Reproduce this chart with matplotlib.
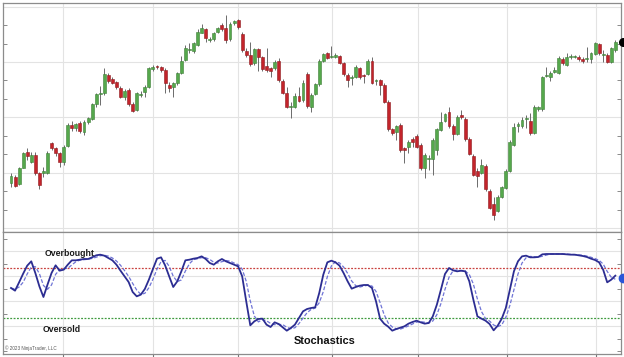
import matplotlib
matplotlib.use("Agg")
import matplotlib.pyplot as plt
import numpy as np

# ---------------- data ----------------
opens = [15.2,17.0,14.7,19.7,24.5,21.3,23.5,18.2,18.0,18.0,27.2,25.5,24.2,21.5,26.3,32.5,31.5,33.0,30.5,33.5,
         34.3,38.7,41.8,42.2,47.5,46.3,45.4,43.5,41.0,43.0,38.7,37.0,41.6,42.5,43.8,49.2,50.1,49.8,49.0,44.5,
         44.0,45.0,48.0,52.0,55.0,54.8,56.5,60.2,61.2,58.0,58.2,60.3,62.5,61.5,58.2,63.0,64.0,59.8,54.8,53.5,
         51.0,55.2,52.8,50.2,49.6,49.5,51.8,45.8,42.2,37.8,38.0,41.2,40.0,47.8,38.0,41.8,44.7,51.8,54.0,53.0,
         53.0,53.2,51.2,47.6,46.5,47.0,49.6,47.4,47.8,51.8,45.7,46.0,44.5,39.5,31.2,30.5,32.5,25.7,26.0,28.2,
         29.2,26.5,19.5,22.3,22.2,25.0,31.0,33.8,36.5,32.2,29.8,35.5,34.3,28.2,23.2,18.7,18.2,20.3,12.7,8.8,
         6.8,11.0,13.5,18.8,26.5,32.2,32.2,34.3,33.8,30.2,37.2,37.2,47.3,47.0,48.5,48.2,52.2,50.5,52.8,53.0,
         53.0,52.3,52.2,52.2,53.8,56.8,53.5,53.5,51.5,55.0]
highs = [18.0,17.5,20.0,24.5,25.5,24.5,24.5,18.5,20.0,24.8,27.5,26.0,24.5,26.5,33.0,33.8,33.2,33.8,34.0,35.0,
         39.0,42.2,44.2,49.5,48.0,46.8,45.8,44.2,43.2,43.5,39.5,42.5,42.8,44.5,50.0,50.5,50.4,50.2,49.5,45.5,
         45.5,48.5,53.2,56.5,57.2,57.5,61.2,62.8,61.5,58.8,60.5,62.0,63.0,65.5,63.5,64.0,64.2,60.5,55.5,57.5,
         55.5,55.5,53.2,55.5,50.0,52.0,52.5,46.2,43.8,39.5,42.0,44.0,46.0,48.5,42.0,45.2,52.2,54.2,54.5,56.2,
         54.0,53.5,51.5,48.0,47.5,50.4,50.0,47.8,52.4,52.8,46.4,46.4,45.0,40.0,31.6,32.6,33.0,26.0,28.0,28.8,
         29.8,27.0,24.0,23.5,28.5,31.7,36.5,36.2,37.8,32.8,35.5,37.0,34.8,28.8,23.7,19.5,22.2,20.8,13.2,11.0,
         11.5,14.2,19.2,28.0,33.2,33.5,34.8,35.5,36.0,38.5,38.2,47.2,50.0,48.8,50.0,53.2,53.0,54.0,53.8,53.6,
         53.5,52.8,56.0,54.5,57.4,57.2,55.0,54.0,56.0,58.0]
lows = [14.0,13.8,14.4,19.5,22.0,21.0,17.5,13.3,16.8,17.8,25.0,23.2,20.0,20.5,26.0,30.8,30.8,30.2,29.5,32.8,
        34.0,38.0,38.5,41.5,45.0,44.8,43.2,40.5,40.0,38.2,36.4,36.7,41.0,41.0,43.5,48.8,49.4,48.5,42.0,42.5,
        41.0,44.5,47.8,51.8,54.0,54.2,56.2,60.0,57.5,57.5,57.8,60.0,60.8,57.0,57.8,62.5,61.2,54.5,53.0,50.2,
        50.5,48.8,48.8,48.5,47.0,49.0,45.5,41.8,37.5,34.5,37.5,39.5,39.5,37.5,36.5,41.5,44.2,51.4,52.2,52.5,
        52.5,50.8,47.2,43.8,44.5,46.5,46.4,45.0,47.4,44.8,44.5,41.5,39.0,30.8,29.6,28.0,24.5,21.0,24.0,26.0,
        25.5,19.0,16.5,19.0,17.5,23.5,30.7,33.5,31.5,28.0,29.5,34.2,27.8,23.4,17.2,14.0,17.8,12.8,7.2,4.0,
        6.4,10.6,13.2,18.5,26.2,30.5,31.5,31.5,29.5,29.8,36.8,36.8,46.8,45.8,48.0,47.8,50.5,50.2,52.2,52.6,
        51.8,51.0,51.5,51.0,53.4,53.6,51.5,51.0,51.0,54.5]
closes = [17.3,14.2,19.5,24.0,23.2,23.5,18.0,14.5,18.7,24.2,25.5,24.2,21.5,26.0,32.5,31.7,32.7,30.8,33.5,34.5,
          38.7,41.8,42.1,47.8,45.7,45.2,43.8,41.0,42.7,38.7,36.7,42.0,41.9,43.8,49.5,50.0,49.8,49.0,45.0,43.7,
          45.0,48.2,51.8,55.7,55.3,57.0,60.5,61.5,58.5,58.3,60.2,61.5,61.2,58.0,62.8,63.7,62.0,55.0,53.5,50.7,
          55.2,53.0,49.2,49.0,48.8,51.5,46.0,42.2,38.0,38.2,41.2,39.8,45.2,38.2,41.5,44.8,51.7,53.8,52.7,53.3,
          53.5,51.2,47.8,46.0,46.8,50.0,46.8,47.1,51.8,45.2,46.0,44.5,39.5,31.2,30.2,32.2,25.0,25.0,27.5,27.4,
          26.0,19.5,23.5,22.6,28.0,31.2,33.5,35.8,32.2,29.8,34.8,34.8,28.2,23.8,17.5,17.2,20.5,13.2,7.5,5.5,
          11.0,13.8,18.8,27.5,32.0,32.8,34.0,34.6,30.2,38.0,37.8,46.8,47.6,48.2,49.0,52.5,51.0,52.8,53.2,53.2,
          52.2,51.8,52.5,54.0,57.0,54.0,53.8,51.5,55.5,57.5]

stoch_k = [56,52.8,62.8,73.2,82.8,88,74,58,45.2,60,74,83.2,76.8,78,84,89.2,89.2,90,90.8,90.8,
           92.8,95.2,96,94.8,92,89.2,84,76.8,70,63.2,51.2,46,48,54.8,66,78.8,91.2,92.8,83.2,70,
           57.2,64,76,89.2,90,91.2,92,94,90.8,86,84,88,90.8,88,86,84,82,70,40,11.2,
           16,18.8,19.2,12,9.2,14.8,12.8,8.8,4.8,8,12,20,28,30.8,32,32.8,50,72,86.8,88.8,
           86.8,82.8,74,64,55.2,57.2,58.8,59.6,59.6,56,40,19.2,13.2,9.6,4.8,6.8,8.4,10,13.2,15.2,
           16.8,14.8,13.2,14,22,36,54,72.8,80,77.2,76,76.8,76,64,42,22,19.2,16.8,12.8,5.2,
           10.8,19.2,32,54,76,88,94,94.8,92.8,92.8,93.2,96.4,96.8,96.8,96.8,96.8,96.8,96.4,96,96,
           95.2,94.4,93.2,91.2,89.6,86.8,78,62.8,66,70.8]
stoch_d = [56,54.5,57.2,62.9,72.9,81.3,81.6,73.3,59.1,54.4,59.7,72.4,78,79.3,79.6,83.7,87.5,89.5,90,90.5,
           91.5,92.9,94.7,95.3,94.3,92,88.4,83.3,76.9,70,61.5,53.5,48.4,49.6,56.3,66.5,78.7,87.6,89.1,82,
           70.1,63.7,65.7,76.4,85.1,90.1,91.1,92.4,92.3,90.3,86.9,86,87.6,88.9,88.3,86,84,78.7,64,40.4,
           22.4,15.3,18,16.7,13.5,12,12.3,12.1,8.8,7.2,8.3,13.3,20,26.3,30.3,31.9,38.3,51.6,69.6,82.5,
           87.5,86.1,81.2,73.6,64.4,58.8,57.1,58.5,59.3,58.4,51.9,38.4,24.1,14,9.2,7.1,6.7,8.4,10.5,12.8,
           15.1,15.6,14.9,14,16.4,24,37.3,54.3,68.9,76.7,77.7,76.7,76.3,72.3,60.7,42.7,27.7,19.3,16.3,11.6,
           9.6,11.7,20.7,35.1,54,72.7,86,92.3,93.9,93.5,92.9,94.1,95.5,96.7,96.8,96.8,96.8,96.7,96.4,96.1,
           95.7,95.2,94.3,92.9,91.3,89.2,84.8,75.9,68.9,66.5]
overbought = 80
oversold = 20
last_price = 57.5
last_stoch = 68

# ---------------- styling ----------------
plt.rcParams['font.family'] = ['Liberation Sans', 'DejaVu Sans']
GREEN = '#55a84c'
RED = '#c3242b'
GRID = '#e3e3e3'
FRAME = '#8c8c8c'

fig = plt.figure(figsize=(6.24, 3.57), dpi=100)
fig.patch.set_facecolor('white')

ax = fig.add_axes([3/624, 1-232/357, 618/624, 229/357])
ax2 = fig.add_axes([3/624, 1-354/357, 618/624, 122/357], sharex=ax)

n = len(closes)
x = np.arange(n)
o = np.array(opens); c = np.array(closes); h = np.array(highs); l = np.array(lows)
up = c >= o
cols = np.where(up, GREEN, RED)
edges = np.where(up, '#3e7d37', '#8e1a1f')

ax.vlines(x, l, h, color='#6b6b6b', lw=0.7, zorder=2)
hgt = c - o
hgt = np.where(np.abs(hgt) < 0.25, np.sign(hgt + 1e-9) * 0.25, hgt)
ax.bar(x, hgt, bottom=o, width=0.72, color=cols, edgecolor=edges, lw=0.4, zorder=3)

xgrid = [12.8, 35.0, 56.0, 79.2, 100.3, 122.3, 144.2]
for a in (ax, ax2):
    a.set_xticks(xgrid)
    a.grid(True, axis='x', color=GRID, lw=0.8, zorder=0)
    for s in a.spines.values():
        s.set_color(FRAME)
        s.set_linewidth(0.9)
    a.set_axisbelow(True)

ax.set_xlim(-1.97, 150.4)
ax.set_ylim(0.4, 69.1)
ax.set_yticks(np.arange(1.6, 69, 16.6))
ax.grid(True, axis='y', color=GRID, lw=0.8, zorder=0)
ax.tick_params(axis='x', length=0, labelbottom=False)
ax.tick_params(axis='y', left=False, labelleft=False)
ax.set_yticks(np.arange(1.6, 69, 16.6/3), minor=True)
ax.tick_params(axis='y', which='minor', right=True, direction='in', length=3, color='#777')
ax.plot([150.8], [last_price], 'o', color='black', ms=5.5, clip_on=False, zorder=6)

# stochastics
ax2.plot(x, stoch_d, color='#6f74d6', lw=0.9, ls=(0, (3, 1.5)), zorder=3)
ax2.plot(x, stoch_k, color='#2c2d92', lw=1.3, zorder=4)
ax2.axhline(overbought, color='#c9413f', lw=0.9, ls=(0, (1.5, 1.2)), zorder=2)
ax2.axhline(oversold, color='#3f9a3f', lw=0.9, ls=(0, (1.5, 1.2)), zorder=2)
ax2.set_ylim(-23.2, 123.2)
ax2.set_yticks([10, 40, 70, 100])
ax2.grid(True, axis='y', color=GRID, lw=0.8, zorder=0)
ax2.tick_params(axis='y', left=False, labelleft=False)
ax2.set_yticks(np.arange(-20, 123, 15), minor=True)
ax2.tick_params(axis='y', which='minor', right=True, direction='in', length=3, color='#777')
ax2.tick_params(axis='x', direction='out', length=3, color='#777', labelbottom=False)
ax2.plot([150.8], [last_stoch], 'o', color='#2a56d8', ms=6, clip_on=False, zorder=6)

def px2data(axis, px, py):
    disp = (px, 357 - py)
    return axis.transData.inverted().transform(disp)

fig.canvas.draw()
tx, ty = px2data(ax2, 70, 254)
ax2.text(tx, ty, 'Overbought', fontsize=6.3, fontweight='bold', ha='center', va='center', color='#1a1a1a', zorder=7)
tx, ty = px2data(ax2, 62, 329)
ax2.text(tx, ty, 'Oversold', fontsize=6.3, fontweight='bold', ha='center', va='center', color='#1a1a1a', zorder=7)
tx, ty = px2data(ax2, 325, 341)
ax2.text(tx, ty, 'Stochastics', fontsize=7.9, fontweight='bold', ha='center', va='center', color='#111111', zorder=7)
tx, ty = px2data(ax2, 5, 348)
ax2.text(tx, ty, '\u00a9 2023 NinjaTrader, LLC', fontsize=3.3, ha='left', va='center', color='#555555', zorder=7)

fig.savefig('out.png', dpi=100, facecolor='white')
